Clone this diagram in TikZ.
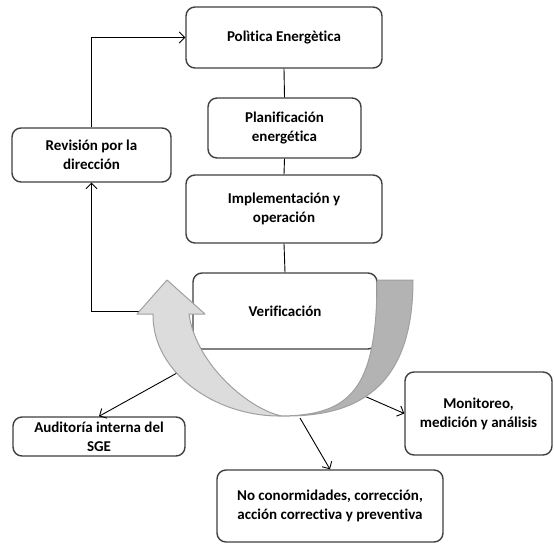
\documentclass[tikz,border=0pt]{standalone}
\usepackage{fontspec}
\setmainfont{Carlito}[Ligatures=NoCommon]
\usetikzlibrary{arrows.meta}
\definecolor{boxc}{HTML}{404040}
\definecolor{lightarr}{HTML}{DCDCDC}
\definecolor{darkarr}{HTML}{B3B3B3}
\definecolor{arredge}{HTML}{A0A0A0}
\begin{document}
\begin{tikzpicture}[x=1pt,y=-1pt,
  box/.style={draw=boxc, line width=1.4pt, rounded corners=9pt, fill=white, align=center,
    font=\fontsize{15}{19}\selectfont\bfseries, text=black, inner sep=0pt},
  conn/.style={draw=black, line width=0.9pt, -{Straight Barb[length=5.5pt,width=11pt]}},
  plain/.style={draw=black, line width=0.9pt},
  arrshape/.style={draw=arredge, line width=1pt, line join=round}]
\path[fill=white, use as bounding box] (0,0) rectangle (554,544);

\node[box, minimum width=196pt, minimum height=61pt] (pol) at (284,37.5) {Polìtica Energètica};
\node[box, minimum width=153pt, minimum height=60pt] (pla) at (284.5,128) {Planificación\\energética};
\node[box, minimum width=196pt, minimum height=68pt] (imp) at (284,209) {Implementación y\\operación};
\node[box, minimum width=159pt, minimum height=54pt] (rev) at (91.5,155) {Revisión por la\\dirección};
\node[box, minimum width=184pt, minimum height=76pt] (ver) at (285,311) {Verificación};
\node[box, minimum width=172pt, minimum height=39pt] (aud) at (99,436.5) {Auditoría interna del\\SGE};
\node[box, minimum width=147pt, minimum height=83pt] (mon) at (478.5,413.5) {Monitoreo,\\medición y análisis};
\node[box, minimum width=226pt, minimum height=72pt] (ncf) at (330,506) {No conormidades, corrección,\\acción correctiva y preventiva};

\draw[plain] (pol.south) -- (pla.north);
\draw[plain] (pla.south) -- (imp.north);
\draw[plain] (imp.south) -- (ver.north);
\draw[conn] (ver.west) -| (rev.south);
\draw[conn] (rev.north) |- (pol.west);

\coordinate (a1) at (177,373);
\coordinate (m1) at (362,395);
\coordinate (n1) at (300,418);
\draw[conn] (a1) -- (aud.north);
\draw[conn] (m1) -- (mon.west);
\draw[conn] (n1) -- (ncf.north);

% curved arrow: dark right band
\path[arrshape, fill=darkarr] (377,280) -- (413,280)
  .. controls (413,390) and (355,417) .. (282,416)
  .. controls (350,415) and (377,390) .. (377,280) -- cycle;
% light left band with arrowhead
\path[arrshape, fill=lightarr] (282,416)
  .. controls (215,417) and (152,372) .. (153,314)
  -- (137,314) -- (167,280) -- (205,314) -- (189,314)
  .. controls (196,365) and (250,410) .. (282,416) -- cycle;
\end{tikzpicture}
\end{document}
